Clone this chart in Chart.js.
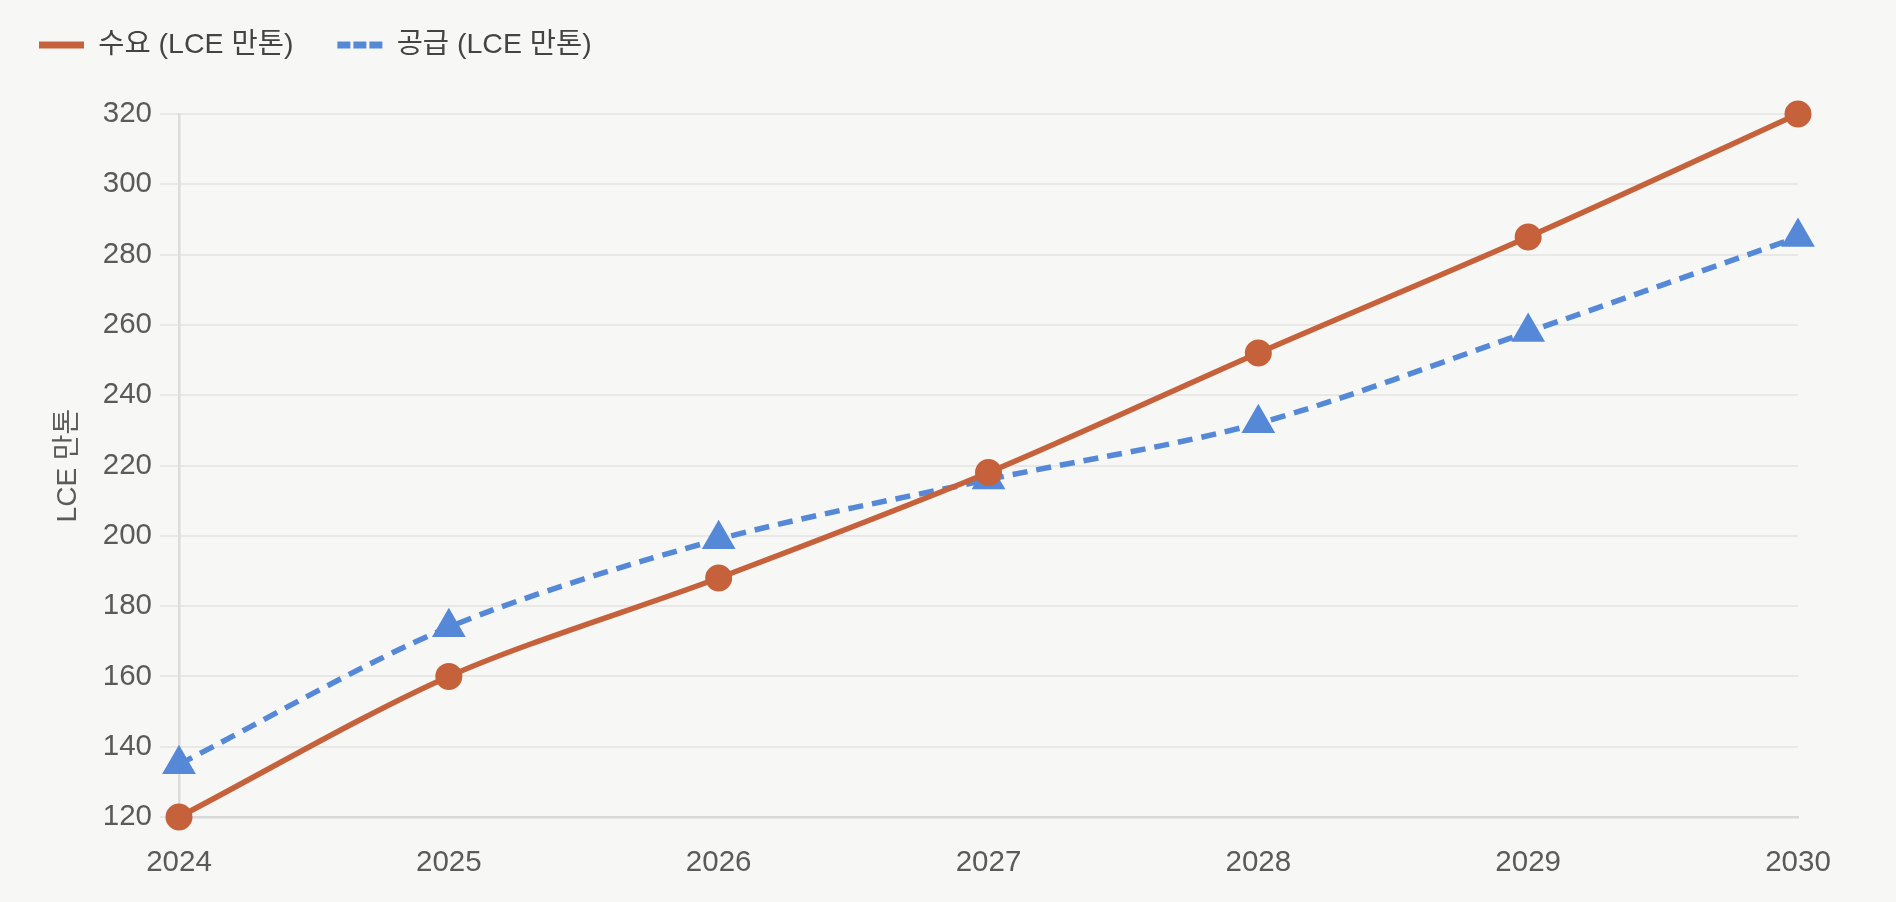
<!DOCTYPE html>
<html>
<head>
  <title>수요 vs 공급</title>
  <script src="https://cdn.jsdelivr.net/npm/chart.js"></script>
  <style>
    html, body { margin: 0; padding: 0; background: #f7f7f5; }
    #wrap { width: 1896px; height: 902px; }
  </style>
</head>
<body>
  <div id="wrap"><canvas id="grafico"></canvas></div>

  <script>
    var years = ['2024', '2025', '2026', '2027', '2028', '2029', '2030'];
    var demand = [120, 160, 188, 218, 252, 285, 320];
    var supply = [135, 174, 199, 216, 232, 258, 285];
    var yTicks = [120, 140, 160, 180, 200, 220, 240, 260, 280, 300, 320];

    var orange = '#c5623b';
    var blue = '#5589d8';

    Chart.defaults.font.family = "'Liberation Sans', 'Noto Sans CJK KR', sans-serif";
    Chart.defaults.color = '#5f5f5f';

    // legenda mas alta para empujar el area del grafico hacia abajo
    var legendSpace = {
      id: 'legendSpace',
      beforeLayout: function(chart) {
        var lg = chart.legend;
        if (lg && !lg._spaced) {
          var fit = lg.fit;
          lg.fit = function() { fit.call(this); this.height = 127.25; };
          lg._spaced = true;
        }
      }
    };

    var ctx = document.getElementById('grafico').getContext('2d');
    new Chart(ctx, {
      type: 'line',
      data: {
        labels: years,
        datasets: [{
          label: '수요 (LCE 만톤)',
          data: demand,
          borderColor: orange,
          backgroundColor: orange,
          borderWidth: 5.5,
          tension: 0.3,
          clip: false,
          pointStyle: 'circle',
          pointRadius: 12.5,
          pointBorderWidth: 2,
          pointBackgroundColor: orange,
          pointBorderColor: orange
        }, {
          label: '공급 (LCE 만톤)',
          data: supply,
          borderColor: blue,
          backgroundColor: blue,
          borderWidth: 5.5,
          borderDash: [15, 9],
          tension: 0.3,
          clip: false,
          pointStyle: 'triangle',
          pointRadius: 17.5,
          pointBorderWidth: 2,
          pointBackgroundColor: blue,
          pointBorderColor: blue
        }]
      },
      options: {
        responsive: true,
        maintainAspectRatio: false,
        animation: false,
        layout: { padding: { top: -13.25, left: -5, right: 98, bottom: 0 } },
        plugins: {
          tooltip: { enabled: false },
          legend: {
            position: 'top',
            align: 'start',
            labels: {
              usePointStyle: true,
              pointStyle: 'line',
              pointStyleWidth: 45,
              padding: 44,
              color: '#444444',
              font: { size: 28.5 },
              generateLabels: function(chart) {
                var items = Chart.defaults.plugins.legend.labels.generateLabels(chart);
                items.forEach(function(it) {
                  it.lineWidth = 7;
                  it.pointStyle = 'line';
                  it.lineCap = 'butt';
                  if (it.datasetIndex === 1) it.lineDash = [13, 3];
                });
                return items;
              }
            }
          }
        },
        scales: {
          x: {
            grid: { display: false, drawTicks: false },
            border: { display: true, color: '#d9d9d7', width: 2.5 },
            ticks: { padding: 28, font: { size: 29.5 }, color: '#5a5a5a', maxRotation: 0 },
            afterFit: function(scale) { scale.height = 85; }
          },
          y: {
            min: 120,
            max: 320,
            afterBuildTicks: function(scale) {
              scale.ticks = yTicks.map(function(v) { return { value: v }; });
            },
            grid: { color: '#e8e8e6', lineWidth: 2, tickLength: 19 },
            border: { display: true, color: '#dcdcda', width: 2.5 },
            ticks: { padding: 8, font: { size: 29.5 }, color: '#5a5a5a' },
            title: {
              display: true,
              text: 'LCE 만톤',
              color: '#5a5a5a',
              font: { size: 28 },
              padding: { top: 56, bottom: 0 }
            },
            afterFit: function(scale) { scale.width = 184; }
          }
        }
      },
      plugins: [legendSpace]
    });
  </script>
</body>
</html>
